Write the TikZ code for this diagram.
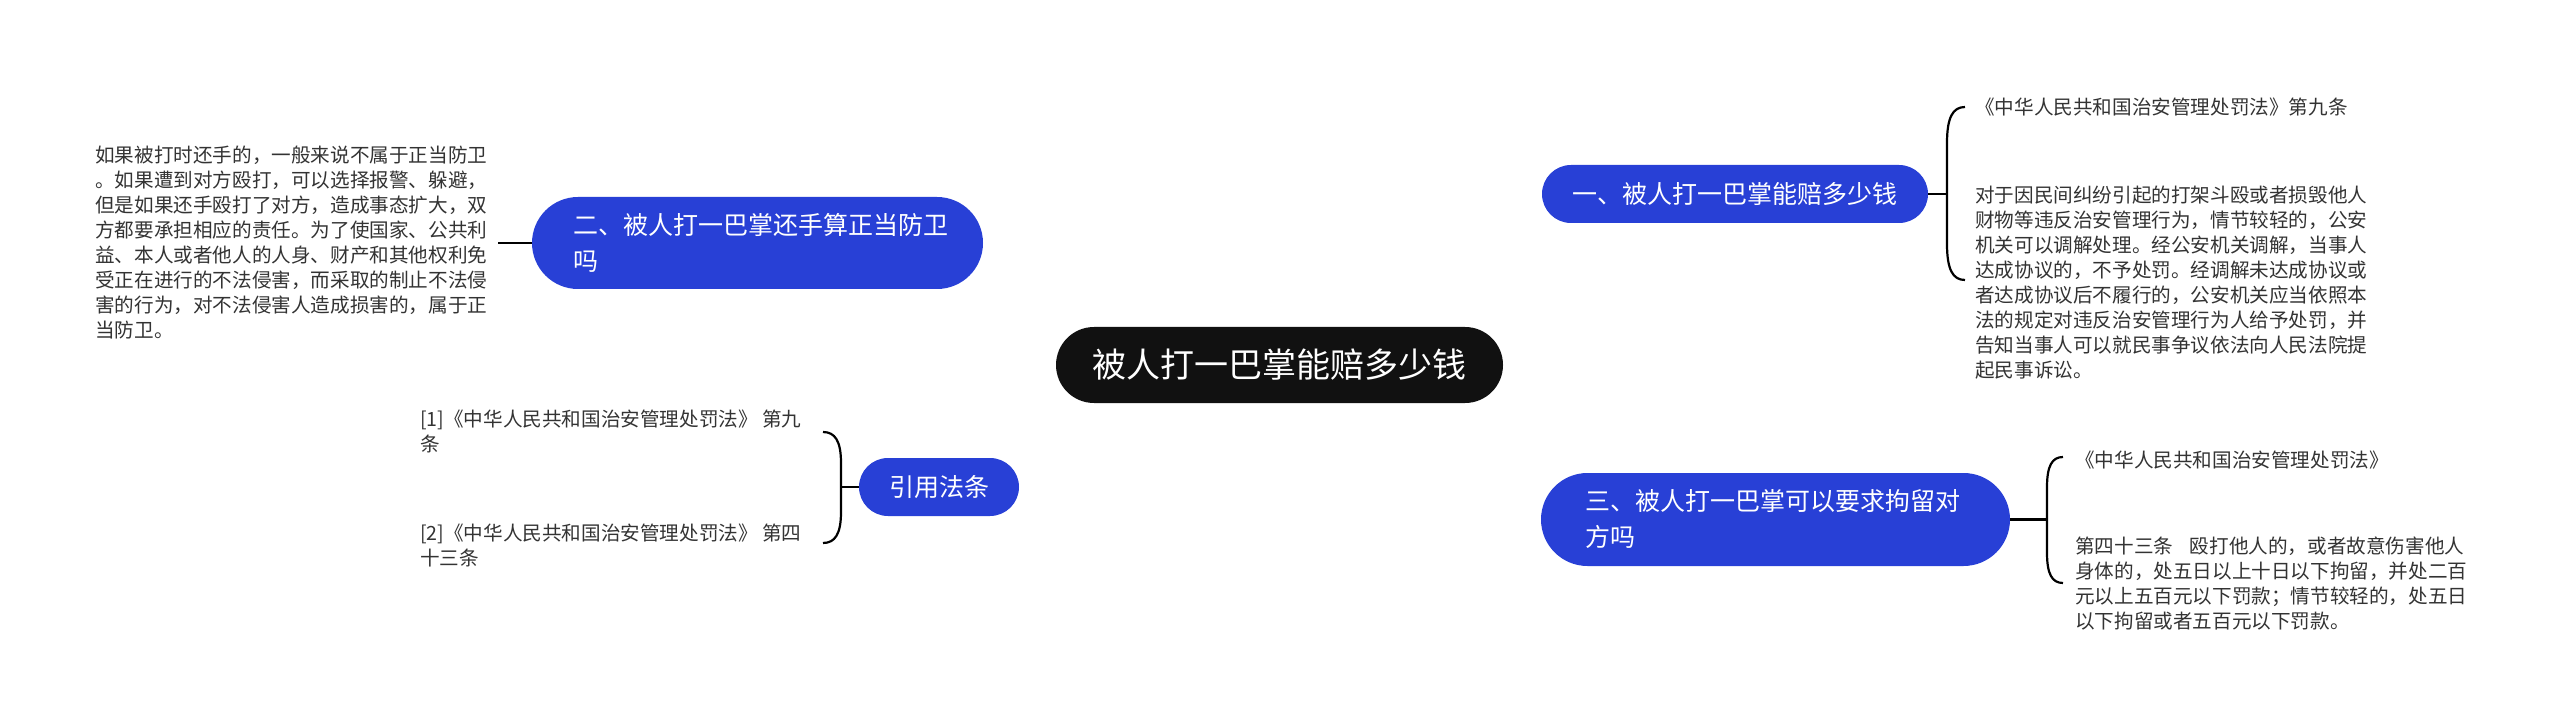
\documentclass[tikz,border=0pt]{standalone}
\usepackage{fontspec}
\setmainfont{Noto Sans CJK SC}
\usetikzlibrary{calc,backgrounds}
\definecolor{bblue}{RGB}{40,64,214}
\definecolor{rootc}{RGB}{17,17,17}
\definecolor{txt}{RGB}{51,51,51}
\begin{document}
\begin{tikzpicture}[x=1pt,y=-1pt,
  link/.style={line width=2.2pt, draw=black},
  rootbox/.style={fill=rootc, rounded corners=38pt, minimum width=447pt, minimum height=76pt, inner sep=0pt, text=white, font=\fontsize{34}{40}\selectfont},
  topic/.style={fill=bblue, inner ysep=0pt, inner xsep=0pt, text=white, font=\fontsize{25}{36}\selectfont},
  detail/.style={anchor=west, inner sep=0pt, align=left, text=txt, font=\fontsize{19.6}{25}\selectfont}
]
\useasboundingbox (0,0) rectangle (2560,727);
\fill[white] (0,0) rectangle (2560,727);

% nodes
\node[rootbox] (root) at (1279.5,365) {被人打一巴掌能赔多少钱};
\node[topic, minimum width=386pt, minimum height=58pt, rounded corners=29pt] (b1) at (1735,194) {一、被人打一巴掌能赔多少钱};
\node[topic, minimum width=451pt, minimum height=92pt, rounded corners=46pt, inner xsep=41pt, text width=369pt, align=left] (b2) at (757.5,243) {二、被人打一巴掌还手算正当防卫\\吗};
\node[topic, minimum width=469pt, minimum height=93pt, rounded corners=46.5pt, inner xsep=44pt, text width=381pt, align=left] (b3) at (1775.5,519.5) {三、被人打一巴掌可以要求拘留对\\方吗};
\node[topic, minimum width=160pt, minimum height=58pt, rounded corners=29pt] (b4) at (939,487) {引用法条};

\node[detail] (d1a) at (1975,107) {《中华人民共和国治安管理处罚法》第九条};
\node[detail] (d1b) at (1975,282.5) {对于因民间纠纷引起的打架斗殴或者损毁他人\\财物等违反治安管理行为，情节较轻的，公安\\机关可以调解处理。经公安机关调解，当事人\\达成协议的，不予处罚。经调解未达成协议或\\者达成协议后不履行的，公安机关应当依照本\\法的规定对违反治安管理行为人给予处罚，并\\告知当事人可以就民事争议依法向人民法院提\\起民事诉讼。};
\node[detail] (d2) at (95,242.5) {如果被打时还手的，一般来说不属于正当防卫\\。如果遭到对方殴打，可以选择报警、躲避，\\但是如果还手殴打了对方，造成事态扩大，双\\方都要承担相应的责任。为了使国家、公共利\\益、本人或者他人的人身、财产和其他权利免\\受正在进行的不法侵害，而采取的制止不法侵\\害的行为，对不法侵害人造成损害的，属于正\\当防卫。};
\node[detail] (d3a) at (2075,460) {《中华人民共和国治安管理处罚法》};
\node[detail] (d3b) at (2075,583.5) {第四十三条\hspace{0.85em}殴打他人的，或者故意伤害他人\\身体的，处五日以上十日以下拘留，并处二百\\元以上五百元以下罚款；情节较轻的，处五日\\以下拘留或者五百元以下罚款。};
\node[detail] (d4a) at (420,431.5) {[1]《中华人民共和国治安管理处罚法》 第九\\条};
\node[detail] (d4b) at (420,545) {[2]《中华人民共和国治安管理处罚法》 第四\\十三条};

% junction / bracket end coordinates
\coordinate (k1) at (1947,194);
\coordinate (a1) at ($(d1a.west)+(-10,0)$);
\coordinate (a2) at ($(d1b.west)+(-10,-2.5)$);
\coordinate (k2) at (498,243);
\coordinate (k3) at (2047,519.5);
\coordinate (a3) at ($(d3a.west)+(-12,-3)$);
\coordinate (a4) at ($(d3b.west)+(-12,-0.5)$);
\coordinate (k4) at (841,487);
\coordinate (a5) at (823,432);
\coordinate (a6) at (823,543);

\begin{scope}[on background layer]
\draw[link] (root.center) .. controls (1290,230) and (1340,194) .. (b1.west);
\draw[link] (root.center) .. controls (1290,500) and (1340,519.5) .. (b3.west);
\draw[link] (root.center) .. controls (1270,260) and (1200,243) .. (b2.east);
\draw[link] (root.center) .. controls (1270,470) and (1200,487) .. (b4.east);
\end{scope}

% stubs
\draw[link] (b1.east) -- (k1);
\draw[link] (b2.west) -- (k2);
\draw[link] (b3.east) -- (k3);
\draw[link] (b4.west) -- (k4);

% brackets
\draw[link] (a1) .. controls ($(a1)+(-12,0)$) and ($(a1)+(-18,10)$) .. ($(a1)+(-18,36)$) -- (k1)
  -- ($(a2)+(-18,-36)$) .. controls ($(a2)+(-18,-10)$) and ($(a2)+(-12,0)$) .. (a2);
\draw[link] (a3) .. controls ($(a3)+(-11,0)$) and ($(a3)+(-16,9)$) .. ($(a3)+(-16,30)$) -- (k3)
  -- ($(a4)+(-16,-30)$) .. controls ($(a4)+(-16,-9)$) and ($(a4)+(-11,0)$) .. (a4);
\draw[link] (a5) .. controls ($(a5)+(12,0)$) and ($(a5)+(18,9)$) .. ($(a5)+(18,31)$) -- (k4)
  -- ($(a6)+(18,-31)$) .. controls ($(a6)+(18,-9)$) and ($(a6)+(12,0)$) .. (a6);
\end{tikzpicture}
\end{document}
